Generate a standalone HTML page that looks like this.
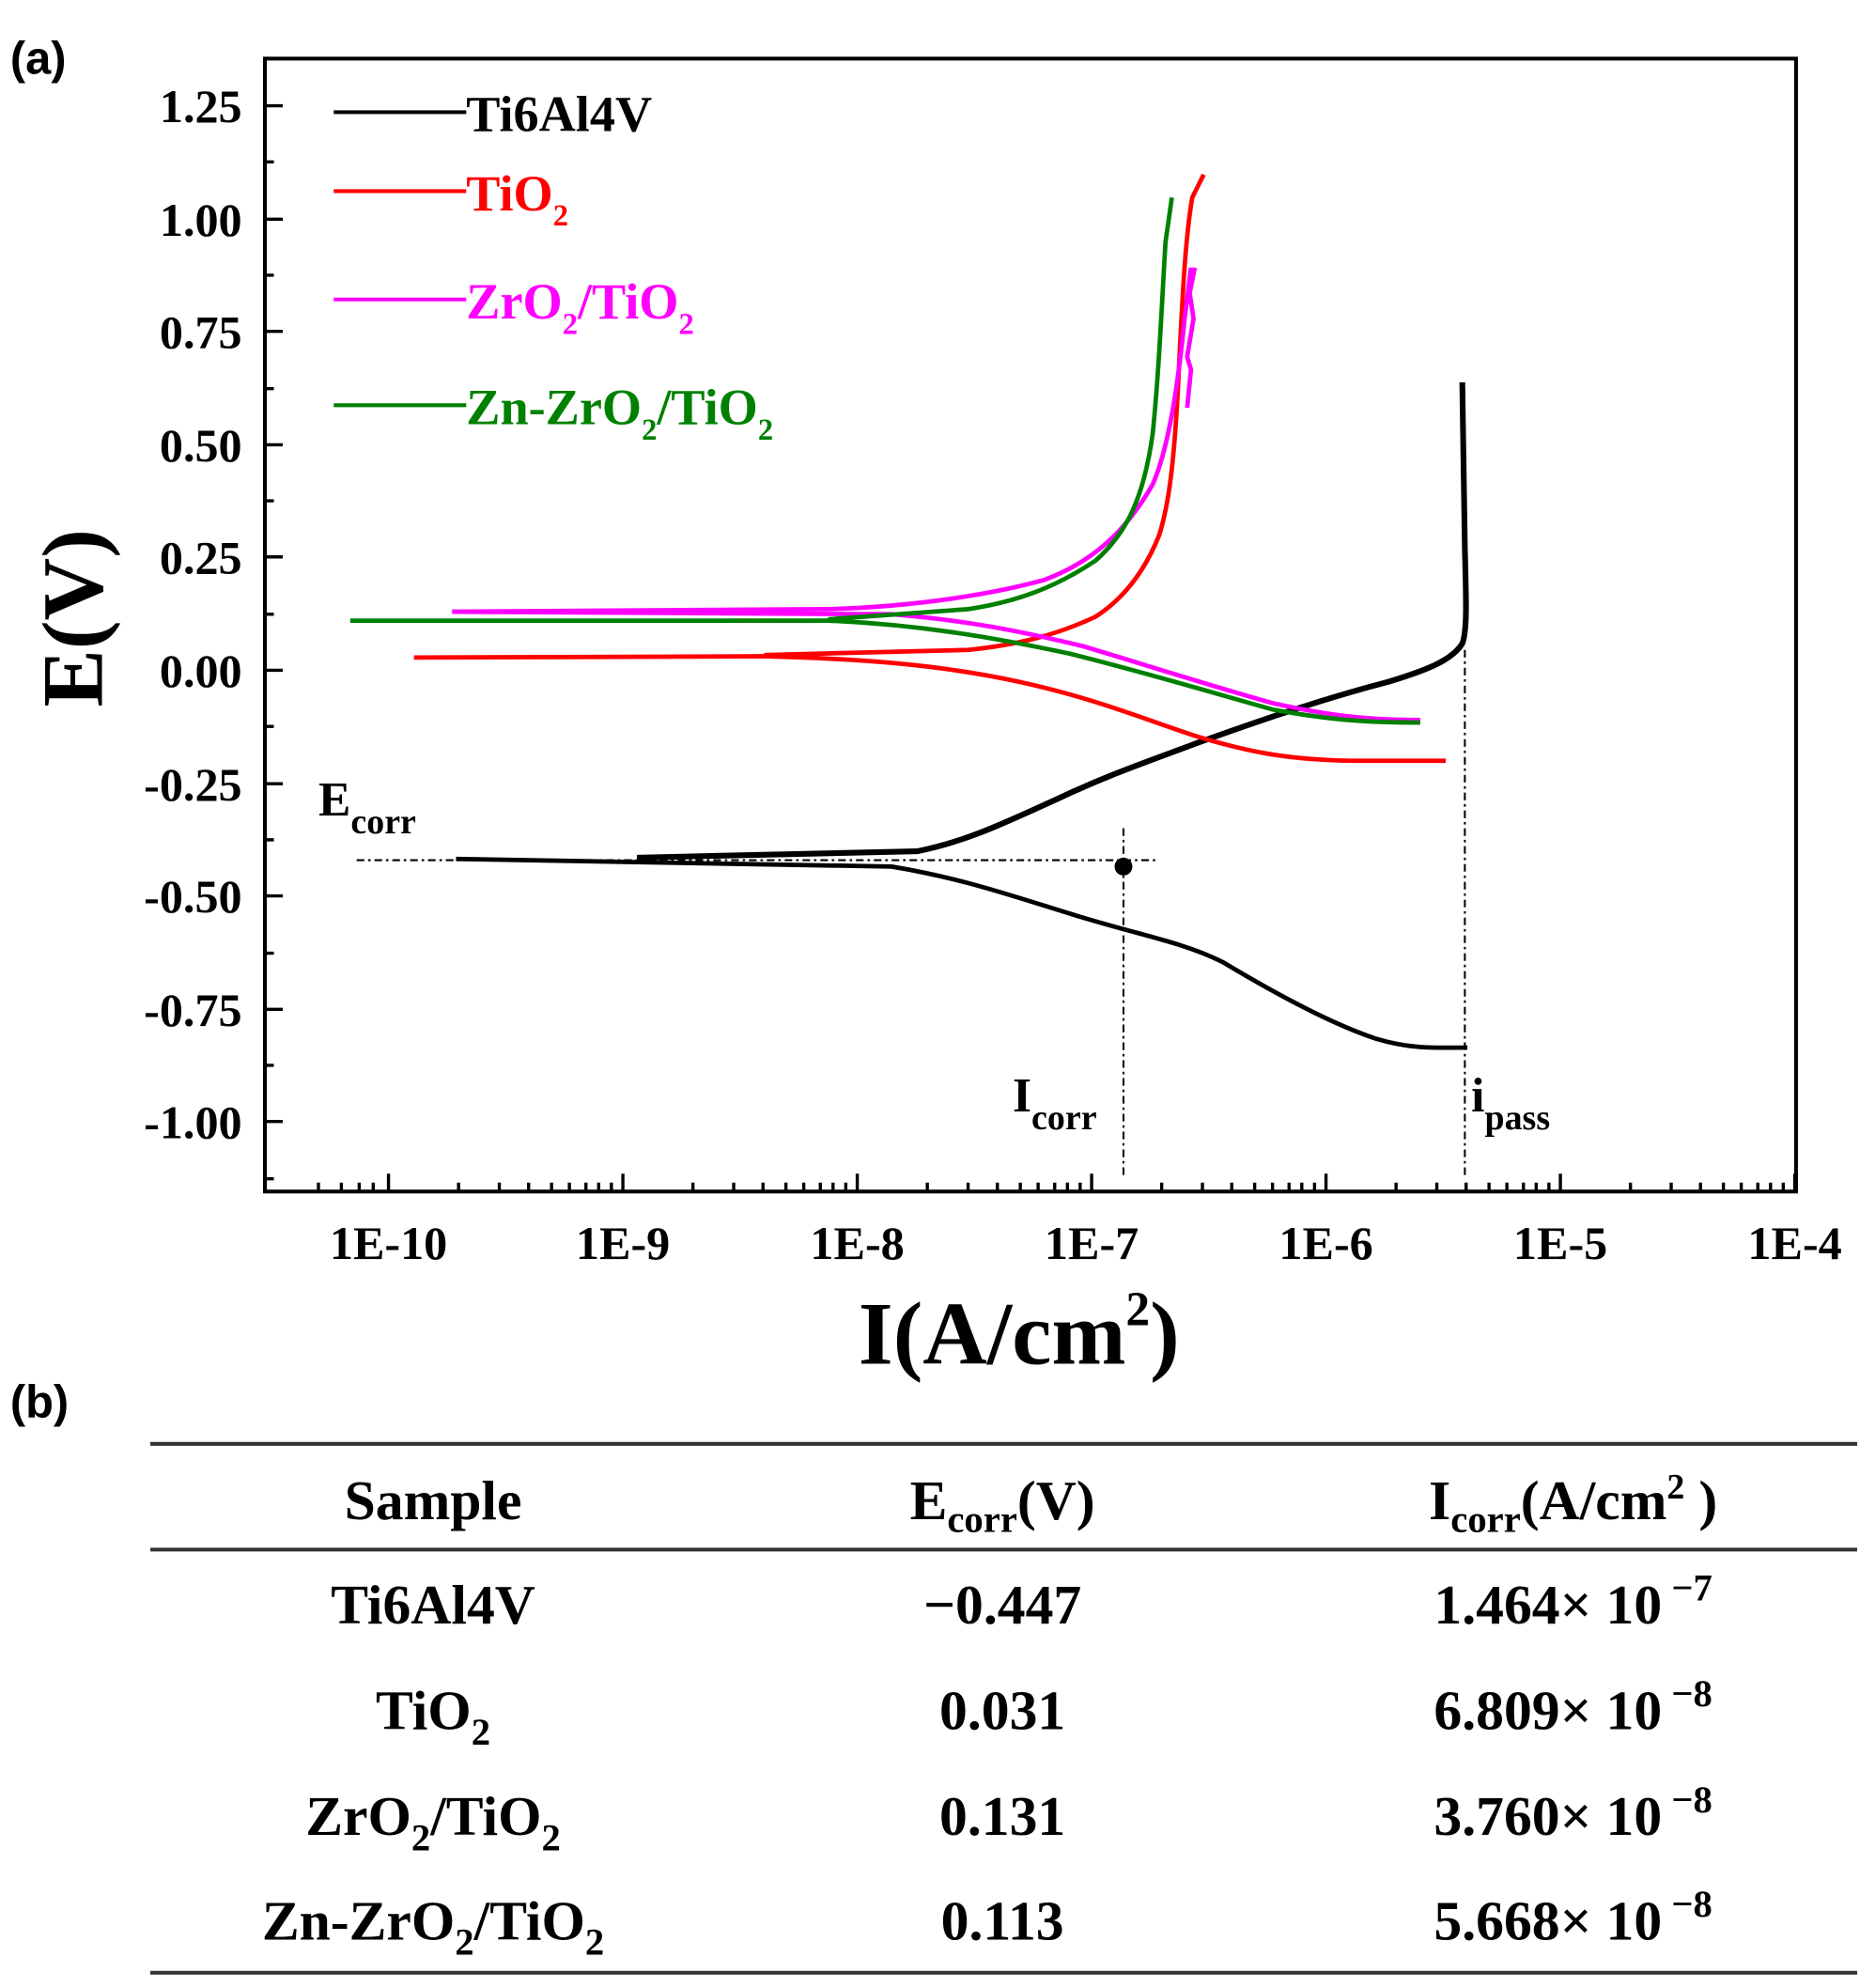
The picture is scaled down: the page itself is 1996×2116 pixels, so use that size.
<!DOCTYPE html>
<html><head><style>
html,body{margin:0;padding:0;background:#fff;}
svg{display:block;}
text{font-family:"Liberation Serif",serif;font-weight:bold;}
</style></head><body>
<svg width="1996" height="2116" viewBox="0 0 1472 1560" preserveAspectRatio="none" xmlns="http://www.w3.org/2000/svg">
<text x="8" y="58" style="font-family:'Liberation Sans',sans-serif" font-size="36">(a)</text>
<text x="8" y="1112" style="font-family:'Liberation Sans',sans-serif" font-size="36">(b)</text>
<rect x="208" y="46" width="1202" height="889" fill="none" stroke="#000" stroke-width="3"/>
<g stroke="#000" stroke-width="2.5" fill="none">
<path d="M208 83h14M208 172h14M208 260h14M208 349h14M208 437h14M208 526h14M208 615h14M208 703h14M208 792h14M208 880h14"/>
<path d="M208 127h7M208 216h7M208 305h7M208 393h7M208 482h7M208 570h7M208 659h7M208 748h7M208 836h7M208 925h7"/>
<path d="M305 935v-14M489 935v-14M673 935v-14M857 935v-14M1041 935v-14M1225 935v-14M1409 935v-14"/>
<path d="M250 935v-7M268 935v-7M282 935v-7M293 935v-7M360 935v-7M392 935v-7M415 935v-7M433 935v-7M447 935v-7M460 935v-7M470 935v-7M480 935v-7M544 935v-7M576 935v-7M599 935v-7M617 935v-7M631 935v-7M644 935v-7M654 935v-7M664 935v-7M728 935v-7M760 935v-7M783 935v-7M801 935v-7M815 935v-7M828 935v-7M838 935v-7M848 935v-7M912 935v-7M944 935v-7M967 935v-7M985 935v-7M999 935v-7M1012 935v-7M1022 935v-7M1032 935v-7M1096 935v-7M1128 935v-7M1151 935v-7M1169 935v-7M1183 935v-7M1196 935v-7M1206 935v-7M1216 935v-7M1280 935v-7M1312 935v-7M1335 935v-7M1353 935v-7M1367 935v-7M1380 935v-7M1390 935v-7M1400 935v-7"/>
</g>
<g font-size="37" text-anchor="end">
<text x="190" y="96">1.25</text><text x="190" y="185">1.00</text><text x="190" y="273">0.75</text><text x="190" y="362">0.50</text><text x="190" y="450">0.25</text><text x="190" y="539">0.00</text><text x="190" y="628">-0.25</text><text x="190" y="716">-0.50</text><text x="190" y="805">-0.75</text><text x="190" y="893">-1.00</text>
</g>
<g font-size="37" text-anchor="middle">
<text x="305" y="988">1E-10</text><text x="489" y="988">1E-9</text><text x="673" y="988">1E-8</text><text x="857" y="988">1E-7</text><text x="1041" y="988">1E-6</text><text x="1225" y="988">1E-5</text><text x="1409" y="988">1E-4</text>
</g>
<text transform="translate(80,485) rotate(-90)" font-size="68" text-anchor="middle">E(V)</text>
<text x="800" y="1070" font-size="70" text-anchor="middle">I(A/cm<tspan font-size="38" dy="-30">2</tspan><tspan dy="30">)</tspan></text>
<g stroke-width="3">
<line x1="262" y1="88" x2="366" y2="88" stroke="#000"/>
<line x1="262" y1="150" x2="366" y2="150" stroke="#f00"/>
<line x1="262" y1="235" x2="366" y2="235" stroke="#f0f"/>
<line x1="262" y1="318" x2="366" y2="318" stroke="#008000"/>
</g>
<g font-size="40">
<text x="366" y="103" fill="#000">Ti6Al4V</text>
<text x="366" y="165" fill="#f00">TiO<tspan font-size="24" dy="12">2</tspan></text>
<text x="366" y="250" fill="#f0f">ZrO<tspan font-size="24" dy="12">2</tspan><tspan dy="-12">/TiO</tspan><tspan font-size="24" dy="12">2</tspan></text>
<text x="366" y="333" fill="#008000">Zn-ZrO<tspan font-size="24" dy="12">2</tspan><tspan dy="-12">/TiO</tspan><tspan font-size="24" dy="12">2</tspan></text>
</g>
<g stroke="#000" stroke-width="1.5" stroke-dasharray="6,3,2,3" fill="none">
<path d="M280 675H910"/><path d="M882 650V925"/><path d="M1150 510V925"/>
</g>
<circle cx="882" cy="680" r="7" fill="#000"/>
<text x="250" y="640" font-size="38">E<tspan font-size="28" dy="14">corr</tspan></text>
<text x="795" y="872" font-size="38">I<tspan font-size="28" dy="14">corr</tspan></text>
<text x="1155" y="872" font-size="38">i<tspan font-size="28" dy="14">pass</tspan></text>
<g fill="none" stroke-width="3.5" stroke-linejoin="round">
<path stroke="#000" d="M358 674 L700 680 C760 690 800 705 850 720 C900 735 930 740 960 755 C1010 785 1050 805 1080 815 C1110 824 1130 822 1152 822"/>
<path stroke="#000" stroke-width="4.5" d="M500 673 L720 668 C760 660 790 645 830 627 C870 608 900 598 940 583 C990 565 1040 548 1090 535 C1120 526 1140 518 1148 505 C1152 495 1151 470 1150 430 L1148 300"/>
<path stroke="#f00" d="M325 516 L600 515 C680 517 740 522 800 535 C860 548 900 565 940 578 C980 590 1010 596 1060 597 L1135 597"/>
<path stroke="#f00" d="M600 514 L760 510 C800 506 830 498 860 484 C885 468 900 445 910 420 C918 395 922 360 925 300 C928 240 930 190 936 155 L945 137"/>
<path stroke="#f0f" d="M355 480 L700 482 C760 487 800 495 850 507 C900 522 950 538 1000 552 C1050 563 1080 565 1115 565"/>
<path stroke="#f0f" d="M355 480 L650 478 C720 476 780 466 820 455 C860 440 885 415 905 380 C918 350 925 300 930 250 L935 210 M932 320 L935 290 L932 280 L937 250 L934 230 L938 210"/>
<path stroke="#008000" d="M275 487 L650 487 C720 490 780 500 840 513 C900 528 950 543 1000 557 C1050 566 1080 567 1115 567"/>
<path stroke="#008000" d="M650 486 L760 478 C800 472 830 460 860 440 C885 418 898 390 905 340 C910 290 912 240 915 190 L920 155"/>
</g>
<g stroke="#333" stroke-width="3">
<line x1="118" y1="1133" x2="1458" y2="1133"/>
<line x1="118" y1="1216" x2="1458" y2="1216"/>
<line x1="118" y1="1548" x2="1458" y2="1548"/>
</g>
<g font-size="44" text-anchor="middle">
<text x="340" y="1192">Sample</text>
<text x="787" y="1192">E<tspan font-size="30" dy="10">corr</tspan><tspan dy="-10">(V)</tspan></text>
<text x="1235" y="1192">I<tspan font-size="30" dy="10">corr</tspan><tspan dy="-10">(A/cm</tspan><tspan font-size="28" dy="-16">2</tspan><tspan dy="16"> )</tspan></text>
<text x="340" y="1274">Ti6Al4V</text>
<text x="787" y="1274">−0.447</text>
<text x="1235" y="1274">1.464× 10<tspan font-size="30" dy="-18"> −7</tspan></text>
<text x="340" y="1357">TiO<tspan font-size="30" dy="12">2</tspan></text>
<text x="787" y="1357">0.031</text>
<text x="1235" y="1357">6.809× 10<tspan font-size="30" dy="-18"> −8</tspan></text>
<text x="340" y="1440">ZrO<tspan font-size="30" dy="12">2</tspan><tspan dy="-12">/TiO</tspan><tspan font-size="30" dy="12">2</tspan></text>
<text x="787" y="1440">0.131</text>
<text x="1235" y="1440">3.760× 10<tspan font-size="30" dy="-18"> −8</tspan></text>
<text x="340" y="1522">Zn-ZrO<tspan font-size="30" dy="12">2</tspan><tspan dy="-12">/TiO</tspan><tspan font-size="30" dy="12">2</tspan></text>
<text x="787" y="1522">0.113</text>
<text x="1235" y="1522">5.668× 10<tspan font-size="30" dy="-18"> −8</tspan></text>
</g>
</svg>
</body></html>
